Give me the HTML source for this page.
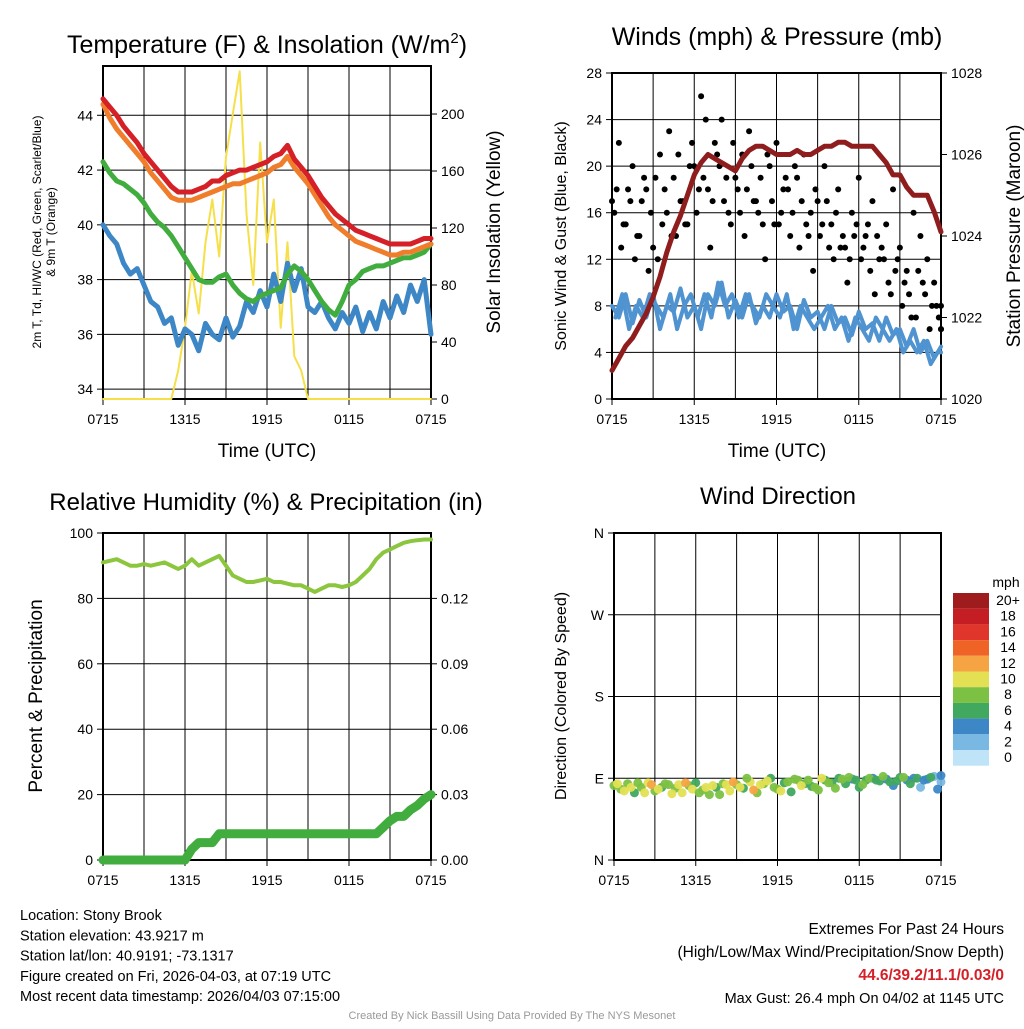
<!DOCTYPE html>
<html><head><meta charset="utf-8"><style>
body{margin:0;background:#fff;font-family:"Liberation Sans",Arial,sans-serif}
svg text{font-family:"Liberation Sans",Arial,sans-serif}
</style></head><body>
<svg id="s" width="1024" height="1024" viewBox="0 0 1024 1024" xmlns="http://www.w3.org/2000/svg">
<rect width="1024" height="1024" fill="#fff"/>
</svg>
<script>
// ---- data (hours since 0715 UTC, half-hour steps) ----
const xTicks=["0715","1315","1915","0115","0715"];
const tempRed=[44.6,44.3,44.0,43.6,43.3,43.0,42.6,42.3,42.0,41.7,41.4,41.2,41.2,41.2,41.3,41.4,41.6,41.6,41.8,41.9,42.0,42.0,42.1,42.2,42.3,42.5,42.6,42.9,42.4,42.1,41.8,41.4,41.0,40.7,40.4,40.2,40.0,39.8,39.7,39.6,39.5,39.4,39.3,39.3,39.3,39.3,39.4,39.5,39.5];
const tempOrange=[44.4,43.9,43.5,43.2,42.9,42.6,42.3,41.9,41.6,41.3,41.0,40.9,40.9,40.9,41.0,41.1,41.2,41.3,41.4,41.5,41.5,41.6,41.7,41.8,41.9,42.1,42.2,42.5,42.1,41.8,41.5,41.1,40.7,40.3,40.0,39.8,39.6,39.4,39.3,39.2,39.1,39.0,38.9,38.9,39.0,39.0,39.1,39.2,39.3];
const tempGreen=[42.3,41.9,41.6,41.5,41.3,41.1,40.8,40.4,40.1,39.9,39.6,39.2,38.8,38.4,38.0,37.9,37.9,38.1,38.2,37.8,37.5,37.3,37.2,37.4,37.5,37.6,37.7,38.2,38.5,38.3,38.0,37.6,37.2,36.9,36.7,37.2,37.8,38.0,38.3,38.4,38.5,38.5,38.6,38.7,38.8,38.8,38.9,39.0,39.3];
const tempBlue=[40.0,39.6,39.3,38.6,38.2,38.4,37.8,37.2,37.0,36.4,36.6,35.6,36.2,36.0,35.4,36.4,36.0,35.8,36.6,35.9,36.3,37.2,36.8,37.6,37.0,38.2,37.2,38.6,37.6,38.4,37.0,36.8,37.2,36.6,36.2,36.8,36.4,37.0,36.1,36.8,36.2,37.2,36.6,37.4,36.8,37.8,37.2,38.0,36.0];
const insol=[0,0,0,0,0,0,0,0,0,0,0,20,50,90,60,110,140,100,170,200,230,130,80,180,110,140,50,110,30,20,0,0,0,0,0,0,0,0,0,0,0,0,0,0,0,0,0,0,0];
const pressure=[1020.7,1021.0,1021.3,1021.5,1021.8,1022.1,1022.5,1023.0,1023.6,1024.1,1024.5,1025.0,1025.5,1025.8,1026.0,1025.9,1025.8,1025.7,1025.6,1025.9,1026.1,1026.2,1026.2,1026.1,1026.0,1026.0,1026.0,1026.1,1026.0,1026.0,1026.1,1026.2,1026.2,1026.3,1026.3,1026.2,1026.2,1026.2,1026.2,1026.0,1025.8,1025.5,1025.5,1025.2,1025.0,1025.0,1025.0,1024.6,1024.1];
const windSpd=[8,7,9,6.5,8.5,7,9,6,8,7.5,9.5,7,8,6,9,8,10,7,8.5,7,9,6.5,8,7,9,7.5,8,6,8.5,7,7.5,6,8,6.5,7,5.5,7.5,6,6.5,5,7,5.5,6,4.5,6,4,5,3.5,4.5];
const windSpd2=[7,9,6,8,7,9,8,7,9,6,8,9,7,9,7,10,8,9,7,9,8,7,9,8,7,9,6,8,7,6,7,8,6,7,5,7,6,5,7,6,5,6,4,5,4,5,3,4,4];
const gust=[17,22,15,20,14,18,13,21,16,19,17,15,20,26,18,22,24,16,19,21,23,17,15,20,22,18,14,19,21,16,17,20,15,18,13,16,19,14,17,12,15,18,13,11,16,14,12,10,8];
const gust2=[16,13,18,12,17,11,19,15,23,14,17,20,16,19,13,21,17,15,18,14,20,16,12,17,15,19,16,13,15,11,14,17,12,13,10,14,12,15,9,13,10,11,8,9,7,10,6,8,6];
const gust3=[18,15,17,14,19,16,12,18,14,21,15,22,18,24,17,20,19,22,16,18,17,19,21,15,16,18,20,17,14,18,15,13,16,14,12,15,13,11,14,12,9,12,10,7,11,9,8,7,6];
const rh=[91,91.5,92,91,90,90,90.5,90,90.5,91,90,89,90,92,90,91,92,93,90,87,86,85,85,85.5,86,85,85,84.5,84,84,83,82,83,84,84,83.5,84,85,87,89,92,94,95,96,97,97.5,97.8,98,98];
const precip=[0,0,0,0,0,0,0,0,0,0,0,0,0,0.005,0.008,0.008,0.008,0.012,0.012,0.012,0.012,0.012,0.012,0.012,0.012,0.012,0.012,0.012,0.012,0.012,0.012,0.012,0.012,0.012,0.012,0.012,0.012,0.012,0.012,0.012,0.012,0.015,0.018,0.020,0.020,0.023,0.025,0.028,0.030];
const wdir=[82,78,84,74,80,85,76,80,83,79,74,82,85,77,72,80,84,76,83,79,86,74,84,90,78,85,75,88,84,81,77,88,85,90,84,89,80,88,90,87,89,82,91,88,90,80,89,92,86];
const wdir2=[84,76,80,85,74,83,78,84,73,83,85,78,74,80,82,72,83,86,80,90,77,83,87,80,76,86,89,82,88,80,90,85,79,89,91,88,83,90,88,92,86,87,91,84,90,88,91,78,93];
const dirSpd=[8,8,9,7,8,10,8,7,9,8,10,8,7,8,9,7,8,10,8,7,10,8,9,7,8,6,7,8,6,7,8,6,7,6,7,5,6,7,5,6,4,5,6,4,5,3,4,3,2];
const cbLabels=["20+","18","16","14","12","10","8","6","4","2","0"];
const cbColors=["#9e1b1e","#c41e24","#e0352b","#ef6327","#f6a443","#e3e053","#7cc143","#41a85f","#3d87c6","#7ab8e4","#bfe4f7"];

const S=document.getElementById('s');const NS="http://www.w3.org/2000/svg";
function el(t,a,p){const e=document.createElementNS(NS,t);for(const k in a)e.setAttribute(k,a[k]);(p||S).appendChild(e);return e;}
function txt(x,y,s,size,anchor,name,extra){const e=el('text',Object.assign({x:x,y:y,'font-size':size,'text-anchor':anchor||'middle',fill:'#000'},extra||{}));e.textContent=s;return e;}
function spdColor(v){const i=Math.max(0,Math.min(10,Math.round(v/2)));return cbColors[10-i];}

function panel(L,R,T,B,lmin,lmax,lticks,ltlab,rmin,rmax,rticks,rtlab,name,hgrid){
  const g=el('g',{});
  const xs=h=>L+(R-L)*h/24, yl=v=>B-(B-T)*(v-lmin)/(lmax-lmin), yr=v=>B-(B-T)*(v-rmin)/(rmax-rmin);
  for(let i=0;i<=8;i++){const l=el('line',{x1:xs(i*3),x2:xs(i*3),y1:T,y2:B,stroke:'#000','stroke-width':1},g);}
  (hgrid||lticks).forEach(v=>{const l=el('line',{x1:L,x2:R,y1:yl(v),y2:yl(v),stroke:'#000','stroke-width':1},g);});
  const r=el('rect',{x:L,y:T,width:R-L,height:B-T,fill:'none',stroke:'#000','stroke-width':2},g);
  lticks.forEach((v,i)=>{el('line',{x1:L-6,x2:L,y1:yl(v),y2:yl(v),stroke:'#000'},g);txt(L-10,yl(v)+5,ltlab[i],14,'end','y-tick-label');});
  if(rticks)rticks.forEach((v,i)=>{el('line',{x1:R,x2:R+6,y1:yr(v),y2:yr(v),stroke:'#000'},g);txt(R+10,yr(v)+5,rtlab[i],14,'start','y2-tick-label');});
  xTicks.forEach((t,i)=>{el('line',{x1:xs(i*6),x2:xs(i*6),y1:B,y2:B+6,stroke:'#000'},g);txt(xs(i*6),B+25,t,14,'middle','x-tick-label');});
  return {xs,yl,yr,g};
}
function line(P,arr,yf,col,w,name,off){const o=off||0;const d=arr.map((v,i)=>(i?'L':'M')+P.xs(Math.min(24,i/2+o)).toFixed(1)+','+yf(v).toFixed(1)).join('');const p=el('path',{d:d,fill:'none',stroke:col,'stroke-width':w,'stroke-linejoin':'round','stroke-linecap':'round'},P.g);}

// Panel 1
const P1=panel(103,431,66,399,33.64,45.8,[34,36,38,40,42,44],["34","36","38","40","42","44"],0,233.7,[0,40,80,120,160,200],["0","40","80","120","160","200"],'temperature-panel');
line(P1,insol,P1.yr,'#f5e04a',2,'insolation-line');
line(P1,tempBlue,P1.yl,'#3d87c6',5,'dewpoint-line');
line(P1,tempGreen,P1.yl,'#41ad3e',5,'hiwc-line');
line(P1,tempOrange,P1.yl,'#ef7d2b',5,'temp-9m-line');
line(P1,tempRed,P1.yl,'#d42026',5,'temp-2m-line');
const t1=txt(267,53,'Temperature (F) & Insolation (W/m',25,'middle','temperature-title');const sp=el('tspan',{dy:-10,'font-size':15},t1);sp.textContent='2';const sp2=el('tspan',{dy:10},t1);sp2.textContent=')';
txt(267,457,'Time (UTC)',19,'middle','x-axis-title');
txt(0,0,'2m T, Td, HI/WC (Red, Green, Scarlet/Blue)',12,'middle','y-axis-title-1',{transform:'translate(41,232) rotate(-90)'});
txt(0,0,'& 9m T (Orange)',12,'middle','y-axis-title-2',{transform:'translate(55,232) rotate(-90)'});
txt(0,0,'Solar Insolation (Yellow)',19,'middle','y2-axis-title',{transform:'translate(500,232) rotate(-90)'});

// Panel 2
const P2=panel(612,941,73,399,0,28,[0,4,8,12,16,20,24,28],["0","4","8","12","16","20","24","28"],1020,1028,[1020,1022,1024,1026,1028],["1020","1022","1024","1026","1028"],'winds-panel',[4,8,12,16,20,24]);
line(P2,windSpd,P2.yl,'#4f93d0',4,'wind-speed-line');
line(P2,windSpd2,P2.yl,'#4f93d0',4,'wind-speed-line-b',0.25);
[gust,gust2,gust3].forEach((arr,k)=>arr.forEach((v,i)=>{const c=el('circle',{cx:P2.xs(Math.min(24,i/2+k*0.17)),cy:P2.yl(v),r:3,fill:'#000'},P2.g);}));
line(P2,pressure,P2.yr,'#8f1d1d',5,'pressure-line');
txt(777,45,'Winds (mph) & Pressure (mb)',25,'middle','winds-title');
txt(777,457,'Time (UTC)',19,'middle','x-axis-title');
txt(0,0,'Sonic Wind & Gust (Blue, Black)',16,'middle','y-axis-title',{transform:'translate(566,236) rotate(-90)'});
txt(0,0,'Station Pressure (Maroon)',19,'middle','y2-axis-title',{transform:'translate(1020,236) rotate(-90)'});

// Panel 3
const P3=panel(103,431,533,860,0,100,[0,20,40,60,80,100],["0","20","40","60","80","100"],0,0.15,[0,0.03,0.06,0.09,0.12],["0.00","0.03","0.06","0.09","0.12"],'humidity-panel');
line(P3,rh,P3.yl,'#8cc63f',4,'rh-line');
line(P3,precip,P3.yr,'#41ad3e',9,'precip-line');
txt(266,510,'Relative Humidity (%) & Precipitation (in)',24,'middle','humidity-title');
txt(0,0,'Percent & Precipitation',19,'middle','y-axis-title',{transform:'translate(42,696) rotate(-90)'});

// Panel 4
const P4=panel(614,941,533,860,0,360,[0,90,180,270,360],["N","E","S","W","N"],0,1,null,null,'direction-panel');
[wdir,wdir2].forEach((arr,k)=>arr.forEach((v,i)=>{const c=el('circle',{cx:P4.xs(Math.min(24,i/2+k*0.25)),cy:P4.yl(v),r:4.5,fill:spdColor(dirSpd[i]+(k?1:-1)),opacity:0.95},P4.g);}));
txt(778,504,'Wind Direction',24,'middle','direction-title');
txt(0,0,'Direction (Colored By Speed)',16,'middle','y-axis-title',{transform:'translate(566,696) rotate(-90)'});
// colorbar
const cb=el('g',{});
txt(1006,587,'mph',14,'middle','colorbar-title');
cbColors.forEach((c,i)=>{const r=el('rect',{x:953,y:593+i*15.7,width:36,height:15.7,fill:c},cb);txt(1008,609+i*15.7-4,cbLabels[i],14,'middle','colorbar-label');});

// Footer
["Location: Stony Brook","Station elevation: 43.9217 m","Station lat/lon: 40.9191; -73.1317","Figure created on Fri, 2026-04-03, at 07:19 UTC","Most recent data timestamp: 2026/04/03 07:15:00"].forEach((s,i)=>txt(20,920+i*20.3,s,14.5,'start','station-info-line'));
txt(1004,934,'Extremes For Past 24 Hours',15.5,'end','extremes-title');
txt(1004,957,'(High/Low/Max Wind/Precipitation/Snow Depth)',15.5,'end','extremes-subtitle');
txt(1004,980,'44.6/39.2/11.1/0.03/0',15.5,'end','extremes-values',{fill:'#d42026','font-weight':'bold'});
txt(1004,1003,'Max Gust: 26.4 mph On 04/02 at 1145 UTC',14.5,'end','max-gust');
txt(512,1019,'Created By Nick Bassill Using Data Provided By The NYS Mesonet',11,'middle','credit',{fill:'#999'});
</script>
</body></html>
